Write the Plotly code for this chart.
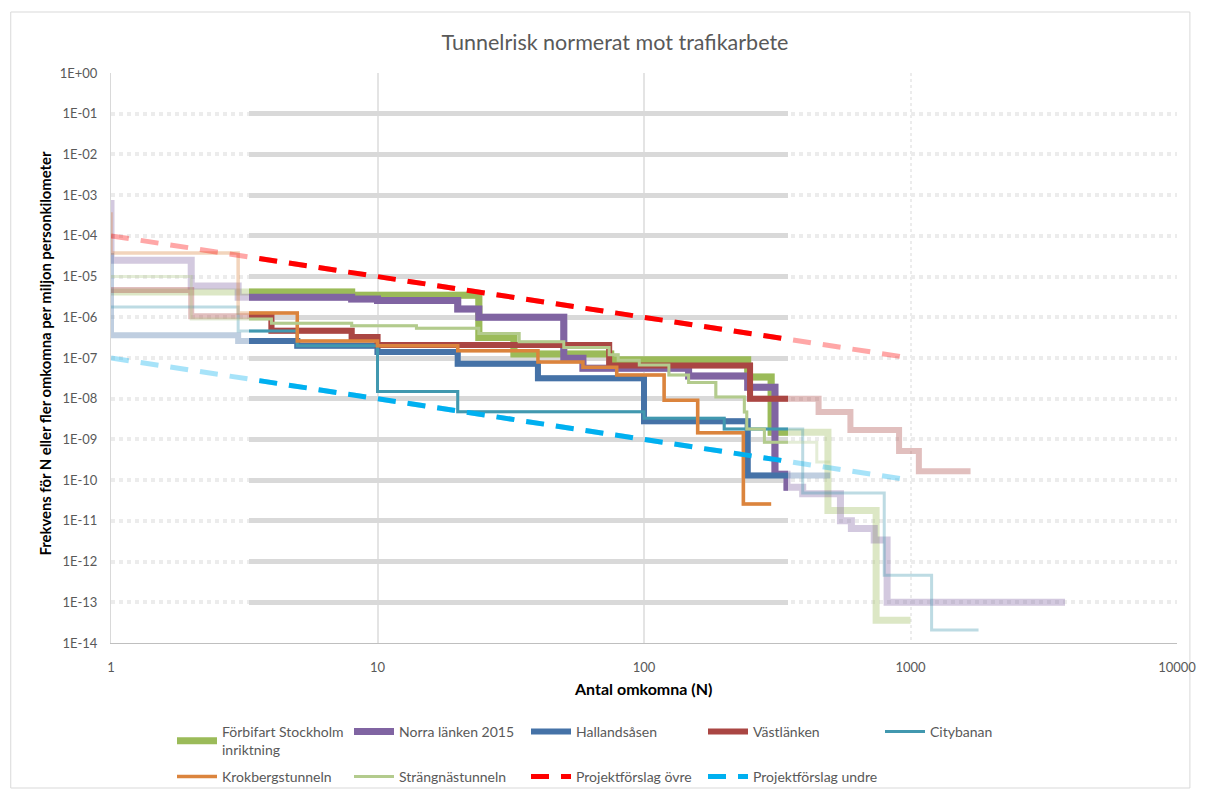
import plotly.graph_objects as go

# ---- data: cumulative frequency F(N) per million person-km, step points (N, F) ----
N_forbifart = [1, 8, 24, 32.5, 75, 245, 300, 490, 743, 1000]
F_forbifart = [4.2e-6, 3.5e-6, 3.2e-7, 1.25e-7, 9.0e-8, 3.4e-8, 1.5e-9, 1.8e-11, 3.6e-14, 3.6e-14]

N_norra = [1, 1, 2, 3, 8, 10, 20, 24, 50, 59, 147, 245, 310, 344, 394, 546, 600, 731, 817, 3800]
F_norra = [7.6e-4, 2.5e-5, 5.9e-6, 3.1e-6, 2.8e-6, 2.6e-6, 1.6e-6, 1.0e-6, 9.8e-8, 5.6e-8,
           3.6e-8, 1.9e-8, 1.4e-10, 6.7e-11, 4.6e-11, 1.0e-11, 6.5e-12, 3.4e-12, 1.0e-13, 1.0e-13]

N_halland = [1, 1, 3, 5, 10, 20, 40, 100, 245, 500]
F_halland = [3.8e-5, 3.6e-7, 2.6e-7, 2.0e-7, 1.4e-7, 7.2e-8, 3.2e-8, 2.8e-9, 1.3e-10, 1.3e-10]

N_vast = [1, 2, 4, 8, 10, 74, 250, 452, 595, 906, 1075, 1680]
F_vast = [4.7e-6, 1.06e-6, 4.7e-7, 3.3e-7, 2.1e-7, 6.5e-8, 1.0e-8, 4.7e-9, 1.7e-9, 5.2e-10, 1.65e-10, 1.65e-10]

N_city = [1, 3, 5, 10, 20, 100, 200, 394, 797, 1200, 1800]
F_city = [1.8e-6, 4.6e-7, 2.0e-7, 1.5e-8, 4.8e-9, 3.3e-9, 1.8e-9, 4.8e-11, 4.6e-13, 2.1e-14, 2.1e-14]

N_krok = [1, 1, 3, 5, 10, 20, 40, 59, 79, 119, 159, 236, 300]
F_krok = [3.8e-4, 3.8e-5, 1.27e-6, 2.6e-7, 2.0e-7, 1.5e-7, 8.0e-8, 5.9e-8, 3.8e-8, 9.2e-9, 1.45e-9, 2.6e-11, 2.6e-11]

N_strang = [1, 2, 4, 8, 14, 24, 34, 50, 74, 80, 96, 124, 147, 186, 238, 243, 283, 445, 500]
F_strang = [1.0e-5, 9.1e-7, 7.1e-7, 6.2e-7, 5.4e-7, 4.0e-7, 2.5e-7, 1.8e-7, 1.2e-7, 8.8e-8,
            6.7e-8, 3.8e-8, 2.5e-8, 1.1e-8, 4.7e-9, 1.8e-9, 8.5e-10, 2.8e-10, 2.8e-10]

N_ovre = [1, 1000]
F_ovre = [1e-4, 1e-7]
N_undre = [1, 1000]
F_undre = [1e-7, 1e-10]

y_tickvals = [10.0 ** (-k) for k in range(0, 15)]
y_ticktext = ["1E+00"] + ["1E-%02d" % k for k in range(1, 15)]
x_tickvals = [1, 10, 100, 1000, 10000]
x_ticktext = ["1", "10", "100", "1000", "10000"]

# ---- styling ----
W, H = 1208, 792
PL, PR, PT, PB = 111, 1185, 73, 643          # plot area edges (px)
CORE_L, CORE_R = 250, 793                    # highlighted window (px)
FONT = "Lato"
GREY = "#595959"

series = [
    ("Förbifart Stockholm<br>inriktning", N_forbifart, F_forbifart, "#9bbb59", 7, "solid", "hv", "legend"),
    ("Norra länken 2015", N_norra, F_norra, "#8064a2", 7, "solid", "hv", "legend"),
    ("Hallandsåsen", N_halland, F_halland, "#4572a7", 6, "solid", "hv", "legend"),
    ("Västlänken", N_vast, F_vast, "#aa4643", 6, "solid", "hv", "legend"),
    ("Citybanan", N_city, F_city, "#4198af", 3, "solid", "hv", "legend"),
    ("Krokbergstunneln", N_krok, F_krok, "#db843d", 3.5, "solid", "hv", "legend2"),
    ("Strängnästunneln", N_strang, F_strang, "#b3cb8d", 3, "solid", "hv", "legend2"),
    ("Projektförslag övre", N_ovre, F_ovre, "#ff0000", 5, "18px,12px", "linear", "legend2"),
    ("Projektförslag undre", N_undre, F_undre, "#00b0f0", 5, "18px,12px", "linear", "legend2"),
]

fig = go.Figure()

# faded full-range curves
for name, n, f, color, width, dash, shape, leg in series:
    fig.add_trace(go.Scatter(
        x=n, y=f, mode="lines", xaxis="x", yaxis="y",
        line=dict(color=color, width=width, dash=dash, shape=shape),
        opacity=0.34, showlegend=False, hoverinfo="skip"))

# solid curves inside the highlighted window
for name, n, f, color, width, dash, shape, leg in series:
    fig.add_trace(go.Scatter(
        x=n, y=f, mode="lines", name=name, xaxis="x2", yaxis="y2", legend=leg,
        line=dict(color=color, width=width, dash=dash, shape=shape)))

pw = PR - PL
ph = PB - PT
d0 = (CORE_L - PL) / pw
d1 = (CORE_R - PL) / pw

def px_x(p):
    return (p - PL) / pw

def px_y(p):
    return (PB - p) / ph

axis_font = dict(family=FONT, size=13, color=GREY)
legend_font = dict(family=FONT, size=14, color=GREY)

fig.update_layout(
    width=W, height=H,
    margin=dict(l=PL, r=W - PR, t=PT, b=H - PB),
    paper_bgcolor="white", plot_bgcolor="rgba(0,0,0,0)",
    font=dict(family=FONT, color=GREY),
    title=dict(text="Tunnelrisk normerat mot trafikarbete", x=615 / W, xref="container",
               y=1 - 42 / H, yref="container", xanchor="center", yanchor="middle",
               font=dict(family=FONT, size=21.5, color=GREY)),
    xaxis=dict(type="log", range=[0, 4], domain=[0, 1], tickvals=x_tickvals, ticktext=x_ticktext,
               showgrid=True, gridcolor="#ececec", gridwidth=2, griddash="dot",
               showline=True, linecolor="#bfbfbf", linewidth=1, ticks="",
               ticklabelstandoff=12, tickfont=axis_font, zeroline=False),
    yaxis=dict(type="log", range=[-14, 0], domain=[0, 1], tickvals=y_tickvals, ticktext=y_ticktext,
               showgrid=True, gridcolor="#ececec", gridwidth=4, griddash="dot",
               showline=True, linecolor="#d9d9d9", linewidth=1, ticks="",
               ticklabelstandoff=10, tickfont=axis_font, zeroline=False),
    xaxis2=dict(type="log", range=[4 * d0, 4 * d1], domain=[d0, d1], anchor="y2",
                tickvals=[10, 100], showgrid=True, gridcolor="#e4e4e4", gridwidth=2,
                showticklabels=False, ticks="", showline=False, zeroline=False),
    yaxis2=dict(type="log", range=[-14, 0], domain=[0, 1], anchor="x2",
                tickvals=y_tickvals[:-1], showgrid=True, gridcolor="#d9d9d9", gridwidth=5,
                showticklabels=False, ticks="", showline=False, zeroline=False),
    legend=dict(orientation="h", xref="container", yref="container", x=172 / W, y=1 - 716 / H,
                xanchor="left", yanchor="top", entrywidth=122, entrywidthmode="pixels",
                itemwidth=40, font=legend_font, bgcolor="rgba(0,0,0,0)", traceorder="normal"),
    legend2=dict(orientation="h", xref="container", yref="container", x=172 / W, y=1 - 761 / H,
                 xanchor="left", yanchor="top", entrywidth=122, entrywidthmode="pixels",
                 itemwidth=40, font=legend_font, bgcolor="rgba(0,0,0,0)", traceorder="normal"),
    showlegend=True,
    hovermode=False,
)

# axis titles
fig.add_annotation(text="Frekvens för N eller fler omkomna per miljon personkilometer",
                   xref="paper", yref="paper", x=px_x(45), y=px_y(353), textangle=-90,
                   showarrow=False, xanchor="center", yanchor="middle",
                   font=dict(family=FONT, size=14.8, color="#000000", weight="bold"))
fig.add_annotation(text="Antal omkomna (N)", xref="paper", yref="paper",
                   x=px_x(647), y=px_y(688), showarrow=False, xanchor="center", yanchor="middle",
                   font=dict(family=FONT, size=16, color="#000000", weight="bold"))

# chart frame
fig.add_shape(type="rect", xref="paper", yref="paper",
              x0=px_x(10), x1=px_x(1198), y0=px_y(788), y1=px_y(12),
              line=dict(color="#d9d9d9", width=1), fillcolor="rgba(0,0,0,0)", layer="below")

fig.write_html("out.html")
